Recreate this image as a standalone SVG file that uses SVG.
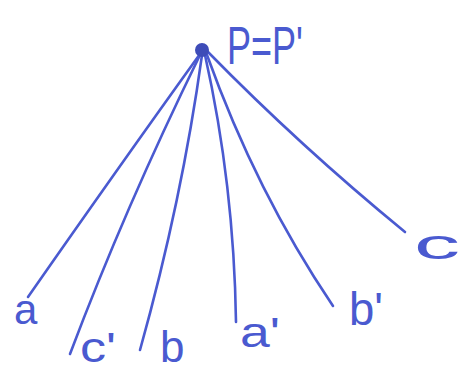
<svg xmlns="http://www.w3.org/2000/svg" width="462" height="372" viewBox="0 0 462 372">
<style>
.ln{fill:none;stroke:#4a5ad0;stroke-width:2.6;stroke-linecap:round}
.t{font-family:"Liberation Sans",Arial,sans-serif;fill:#4a5ad0}
</style>
<rect width="462" height="372" fill="#fff"/>
<g id="connectors">
<path class="ln" d="M200 54 Q118 168 28 297"/>
<path class="ln" d="M200 55 Q125 208 70 354"/>
<path class="ln" d="M202 55 Q182 200 140 350"/>
<path class="ln" d="M205 55 Q234 185 236 322"/>
<path class="ln" d="M207 55 Q256 192 333 306"/>
<path class="ln" d="M208 52 Q300 146 405 232"/>
</g>
<g id="P"><circle cx="202" cy="50" r="7" fill="#3e4cb8"/><text class="t" x="227" y="64" font-size="54" textLength="76" lengthAdjust="spacingAndGlyphs">P=P'</text></g>
<g id="a"><text class="t" x="14" y="324" font-size="42">a</text></g>
<g id="c1"><text class="t" x="80" y="362" font-size="42" textLength="36" lengthAdjust="spacingAndGlyphs">c'</text></g>
<g id="b"><text class="t" x="160" y="362" font-size="44">b</text></g>
<g id="a1"><text class="t" x="240" y="347" font-size="42" textLength="40" lengthAdjust="spacingAndGlyphs">a'</text></g>
<g id="b1"><text class="t" x="349" y="325" font-size="46" textLength="34" lengthAdjust="spacingAndGlyphs">b'</text></g>
<g id="c"><text class="t" x="414" y="259" font-size="42" textLength="46" lengthAdjust="spacingAndGlyphs">c</text></g>
</svg>
